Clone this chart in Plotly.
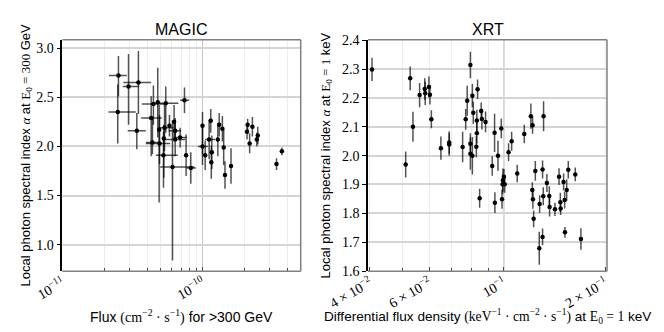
import numpy as np
import plotly.graph_objects as go

# ---------------- MAGIC data ----------------
magic_flux = [2.50e-11, 2.47e-11, 2.95e-11, 3.47e-11, 3.38e-11, 4.44e-11, 4.77e-11, 5.44e-11, 4.28e-11,
              4.88e-11, 4.37e-11, 4.91e-11, 5.27e-11, 5.33e-11, 5.24e-11, 5.78e-11, 6.24e-11, 6.08e-11,
              6.35e-11, 6.35e-11, 6.89e-11, 7.40e-11, 7.60e-11, 8.21e-11, 9.95e-11, 9.95e-11, 1.04e-10,
              1.11e-10, 1.14e-10, 1.16e-10, 1.15e-10, 1.28e-10, 1.31e-10, 1.38e-10, 1.41e-10, 1.44e-10,
              1.59e-10, 2.09e-10, 2.07e-10, 2.26e-10, 2.16e-10, 2.47e-10, 2.43e-10, 3.36e-10, 3.67e-10]
magic_flux_lo = [2.14e-11, 2.12e-11, 2.68e-11, 2.71e-11, 2.91e-11, 3.67e-11, 4.77e-11, 4.57e-11, 3.63e-11,
                 4.88e-11, 3.92e-11, 3.92e-11, 5.27e-11, 4.83e-11, 4.62e-11, 5.78e-11, 6.24e-11, 4.96e-11,
                 5.69e-11, 5.33e-11, 6.28e-11, 6.89e-11, 7.60e-11, 7.69e-11, 9.95e-11, 9.22e-11, 1.04e-10,
                 1.04e-10, 1.14e-10, 1.16e-10, 1.15e-10, 1.28e-10, 1.31e-10, 1.38e-10, 1.37e-10, 1.44e-10,
                 1.59e-10, 2.09e-10, 2.07e-10, 2.26e-10, 2.16e-10, 2.47e-10, 2.43e-10, 3.36e-10, 3.67e-10]
magic_flux_hi = [2.87e-11, 3.32e-11, 3.51e-11, 4.28e-11, 3.92e-11, 5.33e-11, 4.77e-11, 6.70e-11, 5.10e-11,
                 4.88e-11, 4.96e-11, 5.85e-11, 5.27e-11, 6.18e-11, 6.63e-11, 5.78e-11, 6.24e-11, 8.72e-11,
                 7.00e-11, 7.48e-11, 7.69e-11, 7.99e-11, 7.60e-11, 8.92e-11, 9.95e-11, 1.086e-10, 1.04e-10,
                 1.225e-10, 1.14e-10, 1.16e-10, 1.15e-10, 1.28e-10, 1.31e-10, 1.38e-10, 1.45e-10, 1.44e-10,
                 1.59e-10, 2.09e-10, 2.07e-10, 2.26e-10, 2.16e-10, 2.47e-10, 2.43e-10, 3.36e-10, 3.67e-10]
magic_alpha = [2.72, 2.35, 2.61, 2.65, 2.16, 2.43, 2.45, 2.44, 2.29,
               2.17, 2.04, 2.03, 2.08, 2.19, 1.91, 2.21, 2.25, 1.79,
               2.16, 2.07, 2.09, 2.47, 1.91, 1.78, 2.21, 2.00, 1.91,
               2.07, 2.26, 1.94, 1.84, 2.07, 2.22, 2.18, 1.99, 1.71,
               1.80, 2.22, 2.15, 2.20, 2.03, 2.11, 2.07, 1.82, 1.95]
magic_alpha_minus = [0.21, 0.32, 0.39, 0.32, 0.19, 0.21, 0.36, 0.30, 0.39,
                     0.74, 0.12, 0.21, 0.40, 0.24, 0.33, 0.11, 0.17, 0.95,
                     0.10, 0.17, 0.10, 0.13, 0.21, 0.16, 0.29, 0.19, 0.15,
                     0.20, 0.12, 0.17, 0.17, 0.17, 0.12, 0.13, 0.18, 0.14,
                     0.18, 0.06, 0.08, 0.10, 0.10, 0.09, 0.07, 0.06, 0.04]
magic_alpha_plus = [0.20, 0.28, 0.33, 0.32, 0.18, 0.19, 0.35, 0.17, 0.22,
                    0.25, 0.25, 0.29, 0.14, 0.24, 0.24, 0.11, 0.17, 0.47,
                    0.10, 0.22, 0.10, 0.13, 0.21, 0.16, 0.14, 0.19, 0.15,
                    0.20, 0.12, 0.17, 0.17, 0.17, 0.12, 0.13, 0.18, 0.14,
                    0.18, 0.06, 0.08, 0.10, 0.10, 0.09, 0.07, 0.06, 0.04]

# ---------------- XRT data ----------------
xrt_flux = [0.0406, 0.0527, 0.0511, 0.0537, 0.0562, 0.0582, 0.0584, 0.0599, 0.0603, 0.0609,
            0.0650, 0.0688, 0.0688, 0.0795, 0.0778, 0.0770, 0.0806, 0.0811, 0.0835, 0.0856,
            0.0860, 0.0831, 0.0882, 0.0831, 0.0795, 0.0754, 0.0795, 0.0806, 0.0828, 0.0938,
            0.0982, 0.0960, 0.0923, 0.0847, 0.0940, 0.0987, 0.0993, 0.1000, 0.0991, 0.1005,
            0.1032, 0.1054, 0.1095, 0.1149, 0.1202, 0.1216, 0.1311, 0.1239, 0.1302, 0.1214,
            0.1219, 0.1225, 0.1276, 0.1308, 0.1341, 0.1363, 0.1366, 0.1417, 0.1457, 0.1470,
            0.1473, 0.1503, 0.1514, 0.1535, 0.1552, 0.1628, 0.1273, 0.1302, 0.1517, 0.1692]
xrt_alpha = [2.299, 2.268, 1.969, 2.100, 2.210, 2.231, 2.216, 2.238, 2.211, 2.126,
             2.026, 2.046, 2.039, 2.314, 2.190, 2.126, 2.208, 2.149, 2.230, 2.155,
             2.127, 2.122, 2.117, 2.078, 2.041, 2.030, 2.007, 2.000, 2.031, 2.079,
             2.094, 2.000, 1.964, 1.852, 1.837, 1.849, 1.915, 1.927, 1.901, 1.901,
             2.012, 2.050, 1.938, 2.075, 2.137, 2.105, 2.137, 1.947, 1.952, 1.881,
             1.849, 1.781, 1.832, 1.859, 1.905, 1.860, 1.822, 1.814, 1.927, 1.838,
             1.817, 1.909, 1.846, 1.881, 1.951, 1.935, 1.679, 1.718, 1.734, 1.711]
xrt_alpha_err = [0.040, 0.041, 0.045, 0.052, 0.042, 0.037, 0.040, 0.036, 0.034, 0.031,
                 0.040, 0.039, 0.039, 0.046, 0.052, 0.036, 0.040, 0.039, 0.034, 0.029,
                 0.036, 0.037, 0.036, 0.037, 0.037, 0.053, 0.056, 0.065, 0.037, 0.066,
                 0.034, 0.052, 0.034, 0.033, 0.036, 0.033, 0.040, 0.027, 0.034, 0.030,
                 0.031, 0.033, 0.030, 0.032, 0.044, 0.029, 0.052, 0.034, 0.031, 0.027,
                 0.033, 0.029, 0.031, 0.031, 0.031, 0.034, 0.033, 0.023, 0.029, 0.033,
                 0.023, 0.029, 0.029, 0.037, 0.030, 0.024, 0.057, 0.029, 0.019, 0.037]

# ---------------- ticks ----------------
magic_yticks = [1.0, 1.5, 2.0, 2.5, 3.0]
xrt_yticks = [1.6, 1.7, 1.8, 1.9, 2.0, 2.1, 2.2, 2.3, 2.4]
magic_xticks = [1e-11, 1e-10]
magic_xticktext = ["10<sup>−11</sup>", "10<sup>−10</sup>"]
magic_xminor = [2e-11, 3e-11, 4e-11, 5e-11, 6e-11, 7e-11, 8e-11, 9e-11, 2e-10, 3e-10, 4e-10]
xrt_xticks = [0.04, 0.06, 0.1, 0.2]
xrt_xticktext = ["4 × 10<sup>−2</sup>", "6 × 10<sup>−2</sup>", "10<sup>−1</sup>", "2 × 10<sup>−1</sup>"]
xrt_xminor = [0.04, 0.05, 0.06, 0.07, 0.08, 0.09, 0.2]

W, H = 664, 332
SERIF = "Liberation Serif"
SANS = "Liberation Sans"
ERRC = "rgba(0,0,0,0.68)"

mf = np.array(magic_flux)
fig = go.Figure()
fig.add_trace(go.Scatter(
    x=magic_flux, y=magic_alpha, mode="markers",
    marker=dict(color="black", size=4.5),
    error_x=dict(type="data", symmetric=False, array=list(np.array(magic_flux_hi) - mf),
                 arrayminus=list(mf - np.array(magic_flux_lo)), color=ERRC, thickness=1.5, width=0),
    error_y=dict(type="data", symmetric=False, array=magic_alpha_plus, arrayminus=magic_alpha_minus,
                 color=ERRC, thickness=1.5, width=0),
    xaxis="x", yaxis="y", showlegend=False))
fig.add_trace(go.Scatter(
    x=xrt_flux, y=xrt_alpha, mode="markers",
    marker=dict(color="black", size=4.5),
    error_y=dict(type="data", array=xrt_alpha_err, color=ERRC, thickness=1.5, width=0),
    xaxis="x2", yaxis="y2", showlegend=False))

# plot-area geometry (pixels)
L1, R1 = 54.3, 292.7
L2, R2 = 360.0, 599.0
T, B = 31.7, 263.3
dom_y = [1 - B / H, 1 - T / H]

xcommon = dict(type="log", showline=False, zeroline=False, ticks="inside", ticklen=4,
               tickcolor="#444", tickangle=-30, tickfont=dict(family=SERIF, size=14, color="black"),
               automargin=False)
ycommon = dict(showline=True, linecolor="black", linewidth=1.5, zeroline=False, ticks="outside",
               ticklen=4, tickcolor="black", showgrid=True, gridcolor="#d4d4d4", gridwidth=1.5,
               tickfont=dict(family=SERIF, size=14, color="black"), automargin=False)

fig.update_layout(
    width=W, height=H, margin=dict(l=0, r=0, t=0, b=0),
    paper_bgcolor="white", plot_bgcolor="white",
    xaxis=dict(domain=[L1 / W, R1 / W], range=[-11.003, np.log10(5.0e-10)],
               tickvals=magic_xticks, ticktext=magic_xticktext,
               showgrid=True, gridcolor="#c4c4c4", gridwidth=1.2,
               minor=dict(tickvals=magic_xminor, ticks="inside", ticklen=3, tickcolor="#444",
                          showgrid=True, gridcolor="#ededed", gridwidth=1), **xcommon),
    yaxis=dict(domain=dom_y, range=[0.73, 3.085], tickvals=magic_yticks,
               ticktext=[f"{v:.1f}" for v in magic_yticks], anchor="x", **ycommon),
    xaxis2=dict(domain=[L2 / W, R2 / W], range=[np.log10(0.0395), np.log10(0.2022)],
                tickvals=xrt_xticks, ticktext=xrt_xticktext, showgrid=False,
                minor=dict(tickvals=xrt_xminor, ticks="inside", ticklen=3, tickcolor="#444",
                           showgrid=True, gridcolor="#ededed", gridwidth=1),
                anchor="y2", **xcommon),
    yaxis2=dict(domain=dom_y, range=[1.599, 2.402], tickvals=xrt_yticks,
                ticktext=[f"{v:.1f}" for v in xrt_yticks], anchor="x2", **ycommon),
)

# darker major grid line at 1e-1 on XRT panel
fig.add_shape(type="line", xref="x2", yref="y2 domain", x0=0.1, x1=0.1, y0=0, y1=1,
              line=dict(color="#c4c4c4", width=1.2), layer="below")

# gray frame (top, right, bottom)
for xr, yr in (("x domain", "y domain"), ("x2 domain", "y2 domain")):
    fig.add_shape(type="line", xref=xr, yref=yr, x0=0, x1=1, y0=1, y1=1, line=dict(color="#808080", width=1.5))
    fig.add_shape(type="line", xref=xr, yref=yr, x0=1, x1=1, y0=0, y1=1, line=dict(color="#808080", width=1.5))
    fig.add_shape(type="line", xref=xr, yref=yr, x0=0, x1=1, y0=0, y1=0, line=dict(color="#808080", width=1.5))

def serif(s):
    return f"<span style='font-family:{SERIF}'>{s}</span>"

ann = [
    dict(text="MAGIC", x=(L1 + R1) / 2 / W, y=1 - 21 / H, size=16),
    dict(text="XRT", x=(L2 + R2) / 2 / W, y=1 - 21 / H, size=16),
    dict(text="Flux " + serif("(cm<sup>−2</sup> · s<sup>−1</sup>)") + " for &gt;300 GeV",
         x=(L1 + R1) / 2 / W, y=1 - 308 / H, size=14),
    dict(text="Differential flux density " + serif("(keV<sup>−1</sup> · cm<sup>−2</sup> · s<sup>−1</sup>)")
         + " at " + serif("E<sub>0</sub> = 1") + " keV",
         x=(L2 + R2) / 2 / W, y=1 - 308 / H, size=13.6),
    dict(text="Local photon spectral index " + serif("<i>α</i>") + " at " + serif("E<sub>0</sub> = 300") + " GeV",
         x=18 / W, y=1 - (T + B) / 2 / H, size=13, angle=-90),
    dict(text="Local photon spectral index " + serif("<i>α</i>") + " at " + serif("E<sub>0</sub> = 1") + " keV",
         x=318 / W, y=1 - (T + B) / 2 / H, size=13, angle=-90),
]
for a in ann:
    fig.add_annotation(text=a["text"], x=a["x"], y=a["y"], xref="paper", yref="paper",
                       xanchor="center", yanchor="middle", showarrow=False,
                       textangle=a.get("angle", 0),
                       font=dict(family=SANS, size=a["size"], color="black"))

fig.write_html("out.html")
